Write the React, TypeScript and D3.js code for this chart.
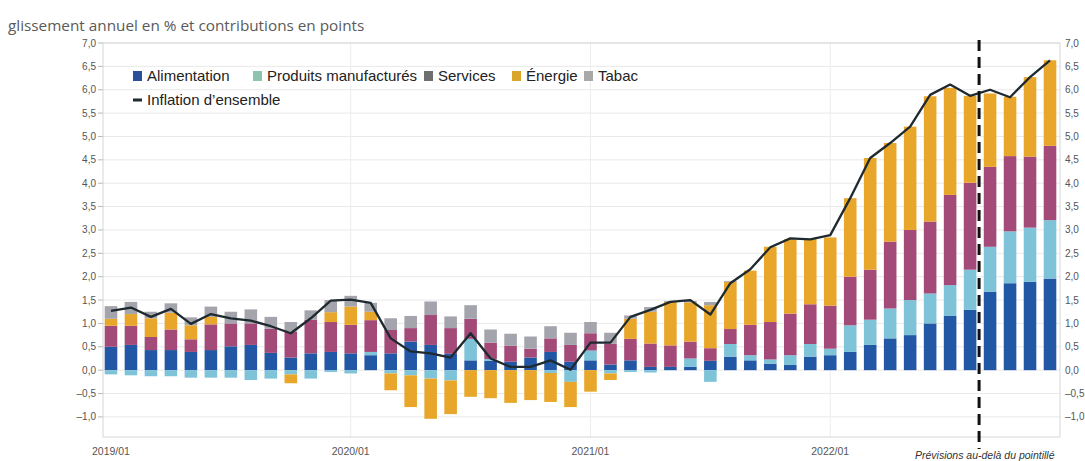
import React from 'react';
import * as d3 from 'd3';

// months 2019/01 .. 2022/12
const months: string[] = d3.range(48).map(
  (i) => `${2019 + Math.floor(i / 12)}/${String((i % 12) + 1).padStart(2, '0')}`
);
const xTickLabels = ['2019/01', '2020/01', '2021/01', '2022/01'];
const yTicks = [-1, -0.5, 0, 0.5, 1, 1.5, 2, 2.5, 3, 3.5, 4, 4.5, 5, 5.5, 6, 6.5, 7];

// contributions en points
const alimentation = [
  0.50, 0.54, 0.43, 0.43, 0.39, 0.43, 0.51, 0.54, 0.37, 0.27, 0.36, 0.39,
  0.36, 0.32, 0.36, 0.61, 0.54, 0.35, 0.21, 0.20, 0.18, 0.27, 0.39, 0.18,
  0.21, 0.12, 0.21, 0.07, 0.07, 0.07, 0.20, 0.29, 0.21, 0.14, 0.11, 0.29,
  0.32, 0.39, 0.54, 0.68, 0.75, 1.00, 1.16, 1.29, 1.68, 1.86, 1.89, 1.96,
];
const produitsManufactures = [
  -0.09, -0.11, -0.13, -0.13, -0.16, -0.16, -0.16, -0.21, -0.18, -0.09, -0.18, -0.04,
  -0.07, 0.07, -0.07, -0.11, -0.18, -0.22, 0.46, 0.04, 0.0, 0.0, -0.06, -0.25,
  0.21, -0.07, -0.04, -0.05, 0.0, 0.18, -0.25, 0.27, 0.11, 0.09, 0.21, 0.27,
  0.14, 0.57, 0.54, 0.64, 0.75, 0.64, 0.66, 0.86, 0.96, 1.11, 1.16, 1.25,
];
const services = [
  0.45, 0.41, 0.28, 0.44, 0.27, 0.55, 0.49, 0.46, 0.52, 0.55, 0.72, 0.64,
  0.61, 0.68, 0.50, 0.29, 0.64, 0.55, 0.43, 0.35, 0.34, 0.19, 0.29, 0.36,
  0.37, 0.45, 0.46, 0.50, 0.46, 0.36, 0.27, 0.32, 0.65, 0.80, 0.89, 0.85,
  0.92, 1.04, 1.07, 1.43, 1.50, 1.54, 1.93, 1.86, 1.71, 1.61, 1.52, 1.59,
];
const energie = [
  0.15, 0.25, 0.40, 0.36, 0.30, 0.16, 0.0, 0.0, 0.0, -0.19, 0.0, 0.21,
  0.39, 0.18, -0.36, -0.68, -0.86, -0.72, -0.57, -0.60, -0.70, -0.64, -0.62, -0.54,
  -0.46, -0.14, 0.43, 0.68, 0.93, 0.84, 0.92, 1.01, 1.16, 1.61, 1.59, 1.40,
  1.46, 1.68, 2.39, 2.11, 2.21, 2.68, 2.29, 1.86, 1.57, 1.27, 1.70, 1.83,
];
const tabac = [
  0.27, 0.26, 0.14, 0.20, 0.17, 0.22, 0.25, 0.30, 0.25, 0.21, 0.20, 0.26,
  0.23, 0.19, 0.25, 0.26, 0.29, 0.25, 0.29, 0.28, 0.26, 0.26, 0.26, 0.26,
  0.24, 0.23, 0.07, 0.10, 0.02, 0.03, 0.07, 0.02, 0.0, 0.0, 0.0, 0.0,
  0.0, 0.0, 0.0, 0.0, 0.0, 0.0, 0.0, 0.0, 0.0, 0.0, 0.0, 0.0,
];
// glissement annuel en %
const inflation = [
  1.27, 1.34, 1.14, 1.31, 0.99, 1.20, 1.11, 1.06, 0.94, 0.79, 1.11, 1.49,
  1.51, 1.44, 0.68, 0.40, 0.36, 0.27, 0.79, 0.25, 0.07, 0.07, 0.21, 0.01,
  0.59, 0.59, 1.14, 1.29, 1.46, 1.50, 1.19, 1.86, 2.16, 2.63, 2.82, 2.80,
  2.89, 3.68, 4.54, 4.86, 5.21, 5.89, 6.11, 5.87, 6.00, 5.84, 6.27, 6.63,
];
const forecastFrom = '2022/09';

const seriesKeys = ['alim', 'manuf', 'serv', 'ener', 'tabac'];
const seriesColors: Record<string, string> = {
  alim: '#2257a5',
  manuf: '#7fc3d8',
  serv: '#a34a78',
  ener: '#e8a72a',
  tabac: '#a4a4ac',
};

const legendItems = [
  { label: 'Alimentation', color: '#2b4f9a', x: 133 },
  { label: 'Produits manufacturés', color: '#8cc4ae', x: 253 },
  { label: 'Services', color: '#6e6e6e', x: 424 },
  { label: 'Énergie', color: '#d9a52b', x: 512 },
  { label: 'Tabac', color: '#a8a8a8', x: 584 },
];

const W = 1085;
const H = 461;
const left = 103;
const right = 1060;
const top = 43;
const bottom = 437;

const App: React.FC = () => {
  const rows = months.map((m, i) => ({
    month: m,
    alim: alimentation[i],
    manuf: produitsManufactures[i],
    serv: services[i],
    ener: energie[i],
    tabac: tabac[i],
  }));

  const stacked = d3
    .stack<any>()
    .keys(seriesKeys)
    .offset(d3.stackOffsetDiverging)(rows);

  const x = d3
    .scaleBand<string>()
    .domain(months)
    .range([101, right])
    .paddingInner(0.37)
    .paddingOuter(0.185);
  const y = d3.scaleLinear().domain([-1.43, 7]).range([bottom, top]);
  const bw = x.bandwidth();
  const cx = (m: string) => (x(m) || 0) + bw / 2;

  const line = d3
    .line<number>()
    .x((_, i) => cx(months[i]))
    .y((d) => y(d));

  const fmt = (v: number) => (v < 0 ? '–' : '') + Math.abs(v).toFixed(1).replace('.', ',');

  const dashX = (cx(forecastFrom) + cx(months[months.indexOf(forecastFrom) - 1])) / 2 - 1;
  const axisFont = '"Liberation Sans", Arial, sans-serif';

  return (
    <svg
      width={W}
      height={H}
      style={{ position: 'absolute', left: 0, top: 0, background: '#fff' }}
    >
      <text
        x={8}
        y={31}
        fontFamily='"Open Sans", sans-serif'
        fontSize={15.3}
        fill="#5a5a5a"
      >
        glissement annuel en % et contributions en points
      </text>

      {/* grid */}
      {yTicks.map((t) => (
        <line key={'g' + t} x1={left} x2={right} y1={y(t)} y2={y(t)} stroke="#e9e9e9" strokeWidth={1} />
      ))}
      {xTickLabels.slice(1).map((m) => (
        <line key={'v' + m} x1={cx(m)} x2={cx(m)} y1={top} y2={bottom} stroke="#ececec" strokeWidth={1} />
      ))}
      <rect x={left} y={top} width={right - left} height={bottom - top} fill="none" stroke="#d6d6d6" strokeWidth={1} />

      {/* axes */}
      {yTicks.map((t) => (
        <g key={'l' + t}>
          <line x1={98} x2={left} y1={y(t)} y2={y(t)} stroke="#b8b8b8" />
          <text
            x={96}
            y={y(t)}
            dy="0.35em"
            textAnchor="end"
            fontFamily={axisFont}
            fontSize={10}
            fill="#555"
          >
            {fmt(t)}
          </text>
          <text
            x={1065}
            y={y(t)}
            dy="0.35em"
            fontFamily={axisFont}
            fontSize={10}
            fill="#555"
          >
            {fmt(t)}
          </text>
        </g>
      ))}

      {/* bars */}
      {stacked.map((s) => (
        <g key={s.key} fill={seriesColors[s.key]}>
          {s.map((d, i) => {
            const y0 = y(d[0]);
            const y1 = y(d[1]);
            const h = Math.abs(y0 - y1);
            if (h < 0.01) return null;
            return <rect key={i} x={x(months[i])} y={Math.min(y0, y1)} width={bw} height={h} />;
          })}
        </g>
      ))}

      {/* inflation line */}
      <path d={line(inflation) || ''} fill="none" stroke="#1e2a30" strokeWidth={2.3} strokeLinejoin="round" />

      {/* forecast marker */}
      <line x1={dashX} x2={dashX} y1={40} y2={449} stroke="#111" strokeWidth={3} strokeDasharray="11,6" />

      {/* x labels */}
      {xTickLabels.map((m) => (
        <text
          key={'x' + m}
          x={cx(m)}
          y={455}
          textAnchor="middle"
          fontFamily={axisFont}
          fontSize={10.5}
          fill="#555"
        >
          {m}
        </text>
      ))}
      <text
        x={915}
        y={459}
        fontFamily={axisFont}
        fontSize={10.5}
        fontStyle="italic"
        fill="#333"
      >
        Prévisions au-delà du pointillé
      </text>

      {/* legend */}
      {legendItems.map((it) => (
        <g key={it.label}>
          <rect x={it.x} y={71} width={9} height={10} fill={it.color} />
          <text x={it.x + 14} y={76} dy="0.35em" fontFamily={axisFont} fontSize={15} fill="#222">
            {it.label}
          </text>
        </g>
      ))}
      <rect x={133} y={98.5} width={9} height={3} fill="#1e2a30" />
      <text x={147} y={100} dy="0.35em" fontFamily={axisFont} fontSize={15} fill="#222">
        Inflation d’ensemble
      </text>
    </svg>
  );
};

export default App;
